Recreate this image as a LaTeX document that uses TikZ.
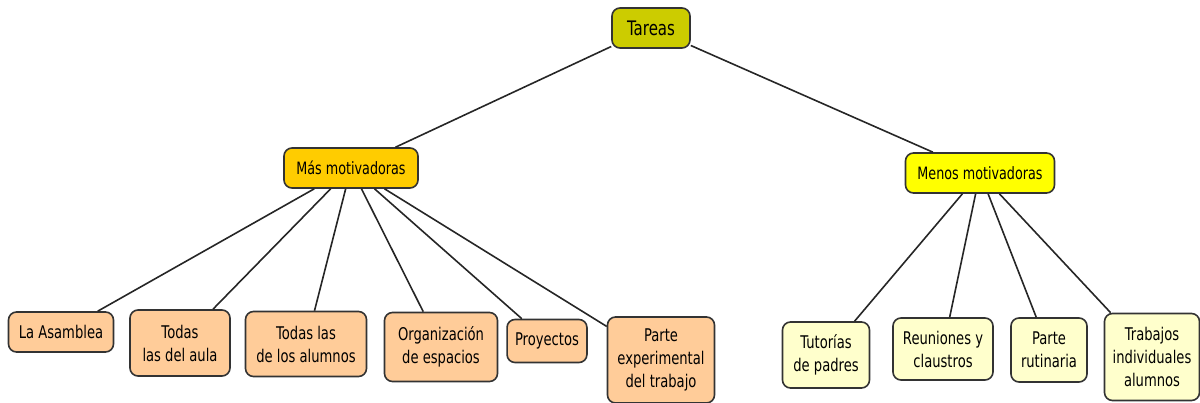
\documentclass[tikz,border=0pt]{standalone}
\usepackage{fontspec}
\setmainfont[FakeStretch=0.75]{DejaVu Sans}
\usetikzlibrary{positioning}
\definecolor{toptask}{RGB}{204,204,0}
\definecolor{moregold}{RGB}{255,204,0}
\definecolor{lessyellow}{RGB}{255,255,0}
\definecolor{morepeach}{RGB}{255,204,153}
\definecolor{lesscream}{RGB}{255,255,204}
\tikzset{every picture/.style={
  line width=1.6pt               % Same weight for boxes and links.
  }
}

\begin{document}
\begin{tikzpicture}[
    x=1pt,y=-1pt,
    box/.style={
      rectangle,
      rounded corners=8pt,
      draw=black!80,
      align=center,
      inner xsep=8pt,
      inner ysep=5pt
    },
    topbox/.style={box,fill=toptask,font=\fontsize{20}{24}\selectfont},
    midbox/.style={box,font=\fontsize{17}{22}\selectfont},
    leaf/.style={box,font=\fontsize{17.5}{23}\selectfont},
    link/.style={draw=black!85}]

    \useasboundingbox (0,0) rectangle (1200,403);

    % Root and the two groups.
    \node[topbox,minimum width=78pt,minimum height=40pt] (tareas) at (651,28) {Tareas};
    \node[midbox,fill=moregold,minimum width=134pt,minimum height=40pt] (mas) at (351,168)
      {Más motivadoras};
    \node[midbox,fill=lessyellow,minimum width=149pt,minimum height=40pt] (menos) at (980,173)
      {Menos motivadoras};

    % Tasks that motivate more.
    \node[leaf,fill=morepeach,minimum width=105pt,minimum height=40pt] (asamblea) at (61,332)
      {La Asamblea};
    \node[leaf,fill=morepeach,minimum width=100pt,minimum height=66pt] (aula) at (180,343)
      {Todas\\las del aula};
    \node[leaf,fill=morepeach,minimum width=121pt,minimum height=65pt] (alumnos) at (306,344)
      {Todas las\\de los alumnos};
    \node[leaf,fill=morepeach,minimum width=113pt,minimum height=69pt] (espacios) at (441,347)
      {Organización\\de espacios};
    \node[leaf,fill=morepeach,minimum width=75pt,minimum height=43pt] (proyectos) at (547,341)
      {Proyectos};
    \node[leaf,fill=morepeach,minimum width=107pt,minimum height=86pt] (experimental) at (661,360)
      {Parte\\experimental\\del trabajo};

    % Tasks that motivate less.
    \node[leaf,fill=lesscream,minimum width=87pt,minimum height=66pt] (tutorias) at (826,355)
      {Tutorías\\de padres};
    \node[leaf,fill=lesscream,minimum width=100pt,minimum height=62pt] (reuniones) at (943,349)
      {Reuniones y\\claustros};
    \node[leaf,fill=lesscream,minimum width=76pt,minimum height=64pt] (rutinaria) at (1049,350)
      {Parte\\rutinaria};
    \node[leaf,fill=lesscream,minimum width=95pt,minimum height=87pt] (individuales) at (1152,357)
      {Trabajos\\individuales\\alumnos};

    % Links.
    \draw[link] (tareas) -- (mas);
    \draw[link] (tareas) -- (menos);
    \foreach \kid in {asamblea,aula,alumnos,espacios,proyectos,experimental}
      \draw[link] (mas) -- (\kid);
    \foreach \kid in {tutorias,reuniones,rutinaria,individuales}
      \draw[link] (menos) -- (\kid);
  \end{tikzpicture}
\end{document}
